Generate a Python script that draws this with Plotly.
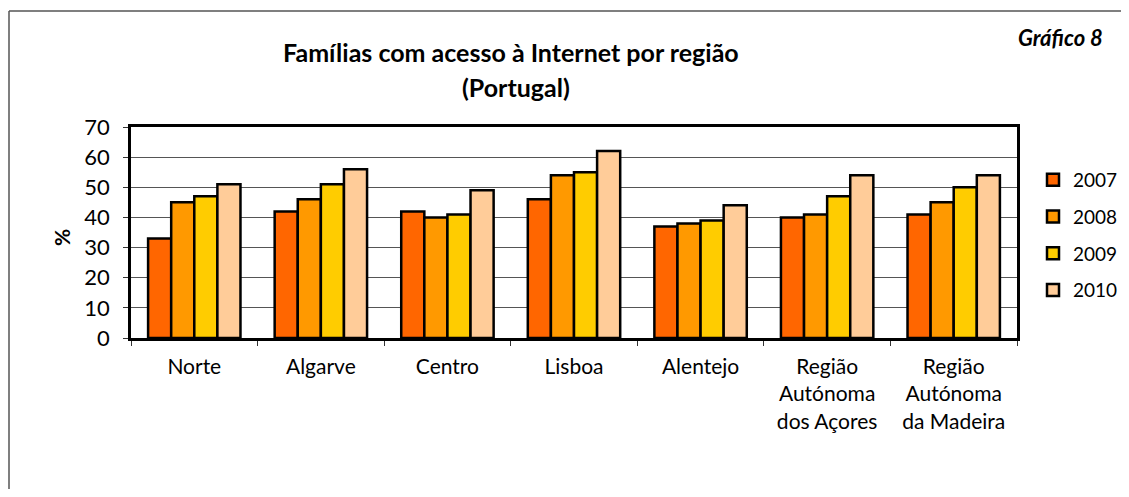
import plotly.graph_objects as go

categories = ["Norte", "Algarve", "Centro", "Lisboa", "Alentejo",
              "Região<br>Autónoma<br>dos Açores", "Região<br>Autónoma<br>da Madeira"]
years = ["2007", "2008", "2009", "2010"]
v2007 = [33, 42, 42, 46, 37, 40, 41]
v2008 = [45, 46, 40, 54, 38, 41, 45]
v2009 = [47, 51, 41, 55, 39, 47, 50]
v2010 = [51, 56, 49, 62, 44, 54, 54]
series = [v2007, v2008, v2009, v2010]
colors = ["#FF6600", "#FF9900", "#FFCC00", "#FFCC99"]

# page body has an 8px margin; keep figure inside viewport to avoid scrollbars
OFF = 8
W, H = 1129 - 2 * OFF, 497 - 2 * OFF
SL, SR, ST, SB = 131, 1017, 127, 338   # plot area in screen px
L, R, T, B = SL - OFF, SR - OFF, ST - OFF, SB - OFF

def px(x):
    return (x - SL) / (SR - SL)

def py(y):
    return (SB - y) / (SB - ST)

def cx(x):
    return (x - OFF) / W

def cy(y):
    return 1 - (y - OFF) / H

FONT = "Lato"

fig = go.Figure()
for name, vals, col in zip(years, series, colors):
    fig.add_trace(go.Bar(
        x=categories, y=vals, name=name, legendgroup=name,
        marker=dict(color=col, line=dict(color="black", width=2.5)),
    ))

fig.update_layout(
    width=W, height=H,
    margin=dict(l=L, r=W - R, t=T, b=H - B, autoexpand=False),
    paper_bgcolor="white", plot_bgcolor="white",
    barmode="group", bargap=0.27, bargroupgap=0,
    font=dict(family=FONT, size=21, color="black"),
    showlegend=True,
    legend=dict(xref="container", yref="container", x=cx(1033), y=cy(161),
                xanchor="left", yanchor="top",
                font=dict(size=19, family=FONT), tracegroupgap=9,
                itemwidth=30, bgcolor="rgba(0,0,0,0)"),
    xaxis=dict(type="category", showline=True, linecolor="black", linewidth=2.5,
               mirror=True, ticks="outside", tickson="boundaries", ticklen=5,
               tickcolor="#333", tickfont=dict(size=21, family=FONT),
               ticklabelstandoff=8),
    yaxis=dict(range=[0, 70], dtick=10, showline=True, linecolor="black",
               linewidth=2.5, mirror=True, ticks="outside", ticklen=5,
               tickcolor="#333", showgrid=True, gridcolor="#555", gridwidth=1,
               tickfont=dict(size=22, family=FONT), zeroline=False,
               ticklabelstandoff=9),
    annotations=[
        dict(text="<b>Famílias com acesso à Internet por região</b>", x=px(511), y=py(52),
             xanchor="center", yanchor="middle",
             xref="paper", yref="paper", showarrow=False, font=dict(size=25, family=FONT)),
        dict(text="<b>(Portugal)</b>", x=px(516), y=py(87),
             xanchor="center", yanchor="middle",
             xref="paper", yref="paper", showarrow=False, font=dict(size=25, family=FONT)),
        dict(text="<b><i>Gráfico 8</i></b>", x=px(1060), y=py(37),
             xanchor="center", yanchor="middle",
             xref="paper", yref="paper", showarrow=False, font=dict(size=22, family=FONT)),
        dict(text="<b>%</b>", x=px(61), y=py(238), textangle=-90,
             xanchor="center", yanchor="middle",
             xref="paper", yref="paper", showarrow=False, font=dict(size=21, family=FONT)),
    ],
    shapes=[
        dict(type="line", xref="paper", yref="paper", x0=px(9), y0=py(11), x1=px(1140), y1=py(11),
             line=dict(color="#555", width=1.5)),
        dict(type="line", xref="paper", yref="paper", x0=px(9), y0=py(11), x1=px(9), y1=py(510),
             line=dict(color="#555", width=1.5)),
    ],
)

fig.write_html("out.html")
